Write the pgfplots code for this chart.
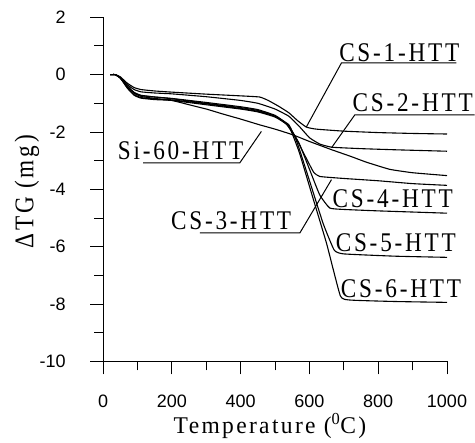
\documentclass[border=0pt]{standalone}
\usepackage{fontspec}
\setmainfont{Liberation Serif}
\setsansfont{Liberation Sans}
\newfontfamily\labfont[LetterSpace=12]{Liberation Serif}
\newfontfamily\axfont[LetterSpace=10]{Liberation Serif}
\usepackage{pgfplots}
\pgfplotsset{compat=1.18}
\newcommand{\lab}[1]{\scalebox{0.86}[1]{\fontsize{27}{27}\labfont #1}}
\begin{document}
\begin{tikzpicture}
\path (-103.3pt,-74.3pt) rectangle (371.7pt,361.7pt);
\begin{axis}[
  at={(0pt,0pt)}, anchor=south west,
  scale only axis, width=344pt, height=344.4pt,
  xmin=0, xmax=1000, ymin=-10, ymax=2,
  axis x line=bottom, axis y line=left,
  axis line style={-, line width=1pt},
  xtick={0,200,...,1000}, minor x tick num=1,
  ytick={-10,-8,...,2}, minor y tick num=1,
  tick align=outside,
  major tick length=13pt, minor tick length=9pt,
  tick style={line width=1pt, black},
  /pgf/number format/assume math mode=true,
  /pgf/number format/1000 sep={},
  tick label style={font=\fontsize{18}{18}\sffamily},
  xticklabel style={yshift=-17pt},
  yticklabel style={xshift=-21pt},
  clip=false,
  cycle list={{black, solid, mark=none}},
  every axis plot/.append style={line width=1.1pt, smooth, tension=0.25},
]
% CS-1-HTT
\addplot coordinates {(20,0) (35,0) (50,-0.08) (70,-0.3) (90,-0.45) (110,-0.52) (150,-0.57) (200,-0.61) (300,-0.68) (400,-0.74) (455,-0.78) (480,-0.9) (510,-1.1) (540,-1.33) (565,-1.6) (591,-1.83) (620,-1.9) (700,-1.97) (800,-2.02) (900,-2.05) (1000,-2.07)};
% CS-2-HTT
\addplot coordinates {(20,0) (35,0) (50,-0.1) (70,-0.35) (90,-0.52) (110,-0.6) (150,-0.64) (200,-0.67) (300,-0.77) (400,-0.9) (450,-1.0) (500,-1.2) (540,-1.45) (570,-1.8) (600,-2.2) (630,-2.42) (665,-2.53) (750,-2.58) (850,-2.62) (1000,-2.67)};
% Si-60-HTT
\addplot coordinates {(20,0) (35,0) (50,-0.12) (70,-0.4) (90,-0.65) (110,-0.76) (150,-0.83) (200,-0.9) (250,-1.05) (300,-1.2) (350,-1.38) (400,-1.55) (455,-1.75) (500,-1.9) (552,-2.1) (600,-2.33) (665,-2.62) (720,-2.85) (765,-3.05) (833,-3.3) (900,-3.42) (1000,-3.52)};
% CS-3-HTT
\addplot coordinates {(20,0) (35,0) (50,-0.12) (70,-0.42) (90,-0.63) (110,-0.73) (150,-0.78) (200,-0.83) (300,-0.97) (400,-1.12) (450,-1.22) (500,-1.42) (530,-1.68) (560,-2.2) (590,-2.9) (612,-3.4) (630,-3.55) (700,-3.62) (800,-3.7) (900,-3.8) (1000,-3.86)};
% CS-4-HTT
\addplot coordinates {(20,0) (35,0) (50,-0.12) (70,-0.4) (90,-0.62) (110,-0.72) (150,-0.78) (200,-0.84) (300,-1.0) (400,-1.15) (450,-1.25) (500,-1.45) (540,-1.8) (570,-2.4) (600,-3.3) (630,-4.2) (659,-4.65) (700,-4.7) (800,-4.75) (1000,-4.83)};
% CS-5-HTT
\addplot coordinates {(20,0) (35,0) (50,-0.12) (70,-0.45) (90,-0.7) (110,-0.8) (150,-0.85) (200,-0.88) (300,-1.02) (400,-1.18) (450,-1.28) (500,-1.45) (540,-1.75) (565,-2.4) (600,-3.7) (640,-5.2) (672,-6.12) (700,-6.25) (850,-6.33) (1000,-6.37)};
% CS-6-HTT
\addplot coordinates {(20,0) (35,0) (50,-0.12) (70,-0.47) (90,-0.72) (110,-0.82) (150,-0.87) (200,-0.9) (300,-1.05) (400,-1.2) (450,-1.3) (500,-1.48) (540,-1.8) (570,-2.7) (610,-4.3) (650,-5.9) (690,-7.72) (720,-7.86) (850,-7.91) (1000,-7.94)};
% axis labels
\node[anchor=center] at (rel axis cs:0.485,-0.188) {\scalebox{0.98}[1]{\fontsize{24}{24}\axfont Temperature (\textsuperscript{0}C)}};
\node[anchor=center, rotate=90] at (rel axis cs:-0.222,0.493) {\scalebox{0.86}[1]{\fontsize{27}{27}\labfont ΔTG (mg)}};
% annotations
\draw[line width=1pt] (axis cs:591,-1.82) -- (axis cs:693,0.41) -- (axis cs:1027,0.41);
\draw[line width=1pt] (axis cs:664,-2.55) -- (axis cs:732,-1.40) -- (axis cs:1080,-1.40);
\draw[line width=1pt] (axis cs:460,-1.98) -- (axis cs:397,-3.08) -- (axis cs:116,-3.08);
\draw[line width=1pt] (axis cs:664,-3.66) -- (axis cs:572,-5.52) -- (axis cs:281,-5.52);
\node[anchor=base west, inner sep=0pt] at (axis cs:686,0.47) {\lab{CS-1-HTT}};
\node[anchor=base west, inner sep=0pt] at (axis cs:725,-1.30) {\lab{CS-2-HTT}};
\node[anchor=base west, inner sep=0pt] at (axis cs:42,-2.96) {\lab{Si-60-HTT}};
\node[anchor=base west, inner sep=0pt] at (axis cs:197,-5.40) {\lab{CS-3-HTT}};
\node[anchor=base west, inner sep=0pt] at (axis cs:667,-4.62) {\lab{CS-4-HTT}};
\node[anchor=base west, inner sep=0pt] at (axis cs:676,-6.18) {\lab{CS-5-HTT}};
\node[anchor=base west, inner sep=0pt] at (axis cs:691,-7.76) {\lab{CS-6-HTT}};
\end{axis}
\end{tikzpicture}
\end{document}
